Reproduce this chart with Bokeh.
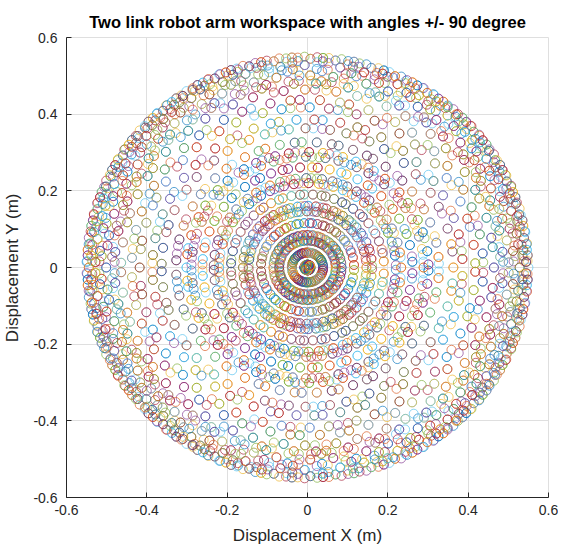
import numpy as np
from bokeh.plotting import figure
from bokeh.models import FixedTicker, ColumnDataSource
from bokeh.embed import file_html
from bokeh.resources import INLINE

# Link lengths (m)
L1 = 0.275
L2 = 0.275

# Joint angle sweeps (degree values as used in the original loops)
theta1_deg = [-90, -87, -84, -81, -78, -75, -72, -69, -66, -63, -60, -57, -54, -51, -48,
              -45, -42, -39, -36, -33, -30, -27, -24, -21, -18, -15, -12, -9, -6, -3, 0,
              3, 6, 9, 12, 15, 18, 21, 24, 27, 30, 33, 36, 39, 42, 45, 48, 51, 54, 57,
              60, 63, 66, 69, 72, 75, 78, 81, 84, 87, 90]
theta2_deg = [-90, -87, -84, -81, -78, -75, -72, -69, -66, -63, -60, -57, -54, -51, -48,
              -45, -42, -39, -36, -33, -30, -27, -24, -21, -18, -15, -12, -9, -6, -3, 0,
              3, 6, 9, 12, 15, 18, 21, 24, 27, 30, 33, 36, 39, 42, 45, 48, 51, 54, 57,
              60, 63, 66, 69, 72, 75, 78, 81, 84, 87, 90]

# Axis ticks / labels
tick_values = [-0.6, -0.4, -0.2, 0, 0.2, 0.4, 0.6]
tick_labels = ["-0.6", "-0.4", "-0.2", "0", "0.2", "0.4", "0.6"]

title_text = "Two link robot arm workspace with angles +/- 90 degree"
x_label = "Displacement X (m)"
y_label = "Displacement Y (m)"

# MATLAB default colour order (one colour per plot call)
color_order = ["#0072BD", "#D95319", "#EDB120", "#7E2F8E", "#77AC30", "#4DBEEE", "#A2142F"]

xs, ys, cs = [], [], []
k = 0
for t1 in theta1_deg:
    for t2 in theta2_deg:
        xs.append(L1 * np.cos(t1) + L2 * np.cos(t1 + t2))
        ys.append(L1 * np.sin(t1) + L2 * np.sin(t1 + t2))
        cs.append(color_order[k % len(color_order)])
        k += 1

src = ColumnDataSource(dict(x=xs, y=ys, c=cs))

p = figure(width=558, height=550, x_range=(-0.6, 0.6), y_range=(-0.6, 0.6),
           output_backend="svg", toolbar_location=None, title=title_text)
p.min_border_left = 66
p.min_border_right = 10
p.min_border_top = 37
p.min_border_bottom = 53

p.title.align = "center"
p.title.vertical_align = "top"
p.title.text_font = "Liberation Sans"
p.title.text_font_size = "16.5px"
p.title.text_font_style = "bold"
p.title.text_color = "#000000"
p.title.standoff = 10

p.scatter("x", "y", source=src, size=9, marker="circle", fill_color=None,
          line_color="c", line_width=1, line_alpha=0.65)

for ax in (p.xaxis, p.yaxis):
    ax.ticker = FixedTicker(ticks=tick_values)
    ax.major_label_overrides = {v: s for v, s in zip(tick_values, tick_labels)}
    ax.major_label_text_font = "Liberation Sans"
    ax.major_label_text_font_size = "14px"
    ax.major_label_text_color = "#262626"
    ax.axis_line_color = "#262626"
    ax.major_tick_line_color = "#262626"
    ax.major_tick_in = 5
    ax.major_tick_out = 0
    ax.minor_tick_line_color = None
    ax.axis_label_text_font = "Liberation Sans"
    ax.axis_label_text_font_size = "17px"
    ax.axis_label_text_font_style = "normal"
    ax.axis_label_text_color = "#262626"

p.xaxis.axis_label = x_label
p.yaxis.axis_label = y_label
p.xaxis.major_label_standoff = 7
p.yaxis.major_label_standoff = 9
p.xaxis.axis_label_standoff = 8
p.yaxis.axis_label_standoff = 8

p.grid.grid_line_color = "#DFDFDF"
p.grid.grid_line_width = 1
p.outline_line_color = "#DFDFDF"
p.background_fill_color = "white"
p.border_fill_color = "white"

open("out.html", "w").write(file_html(p, INLINE))
